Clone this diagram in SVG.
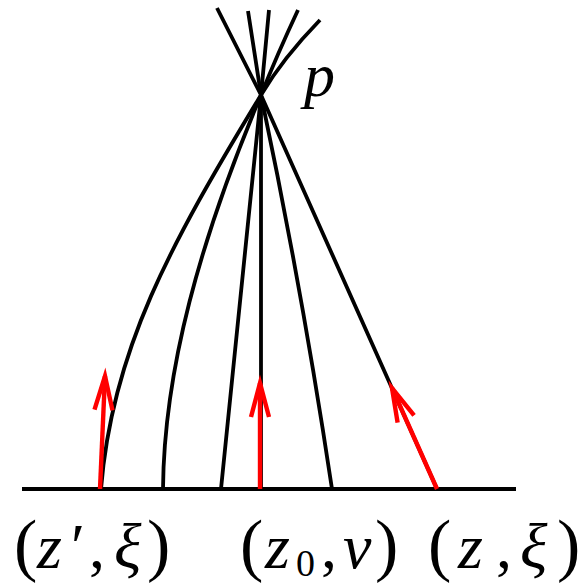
<svg xmlns="http://www.w3.org/2000/svg" width="587" height="585" viewBox="0 0 587 585">
  <style>
    .geo { fill: none; stroke: #000; stroke-width: 3.8; stroke-linejoin: round; }
    .axis { fill: none; stroke: #000; stroke-width: 4; }
    .vec { fill: none; stroke: #ff0000; stroke-width: 4.4; marker-end: url(#vhead); }
    .lbl { font-family: "Liberation Serif", "Times New Roman", serif; font-size: 64px; fill: #000; }
    .it { font-style: italic; }
    .par { font-size: 70px; font-style: normal; }
    .sub { font-size: 38px; font-style: normal; }
  </style>
  <defs>
    <marker id="vhead" markerUnits="userSpaceOnUse" markerWidth="50" markerHeight="30" refX="0" refY="0" viewBox="-40 -15 50 30" orient="auto" overflow="visible">
      <path d="M-34,-9 L0,0 L-34,9" fill="none" stroke="#ff0000" stroke-width="4.4" stroke-linejoin="miter"/>
    </marker>
  </defs>

  <g id="connectors">
    <path id="axis" class="axis" d="M22,489 H516"/>
    <path id="geo1" class="geo" d="M101,489 C112,350 170,245 261,95 Q283,58 320,20"/>
    <path id="geo2" class="geo" d="M163,489 C164,370 200,240 261,95 Q277,55 298,10"/>
    <path id="geo3" class="geo" d="M221,489 L261,95 L269,10"/>
    <path id="geo4" class="geo" d="M261,489 V95"/>
    <path id="geo5" class="geo" d="M332,489 Q302.5,292 261,95 L248,11"/>
    <path id="geo6" class="geo" d="M437,489 L261,95 L217,8"/>
    <path id="vec1" class="vec" d="M100,489 L105,376"/>
    <path id="vec2" class="vec" d="M260,489 L260,383"/>
    <path id="vec3" class="vec" d="M437,489 L392,388"/>
  </g>

  <g id="label-p">
    <text class="lbl it" x="304" y="96" style="font-size:62px">p</text>
  </g>
  <g id="label-zprime-xi">
    <text class="lbl" y="568"><tspan class="par" x="14">(</tspan><tspan class="it" x="37">z</tspan><tspan x="71">′</tspan><tspan x="89">,</tspan><tspan class="it" x="114">ξ</tspan><tspan class="par" x="147">)</tspan></text>
  </g>
  <g id="label-z0-nu">
    <text class="lbl" y="568"><tspan class="par" x="240">(</tspan><tspan class="it" x="265">z</tspan><tspan class="sub" x="296" y="576">0</tspan><tspan x="321" y="568">,</tspan><tspan class="it" x="343">ν</tspan><tspan class="par" x="375">)</tspan></text>
  </g>
  <g id="label-z-xi">
    <text class="lbl" y="568"><tspan class="par" x="428">(</tspan><tspan class="it" x="458">z</tspan><tspan x="496">,</tspan><tspan class="it" x="520">ξ</tspan><tspan class="par" x="557">)</tspan></text>
  </g>
</svg>
